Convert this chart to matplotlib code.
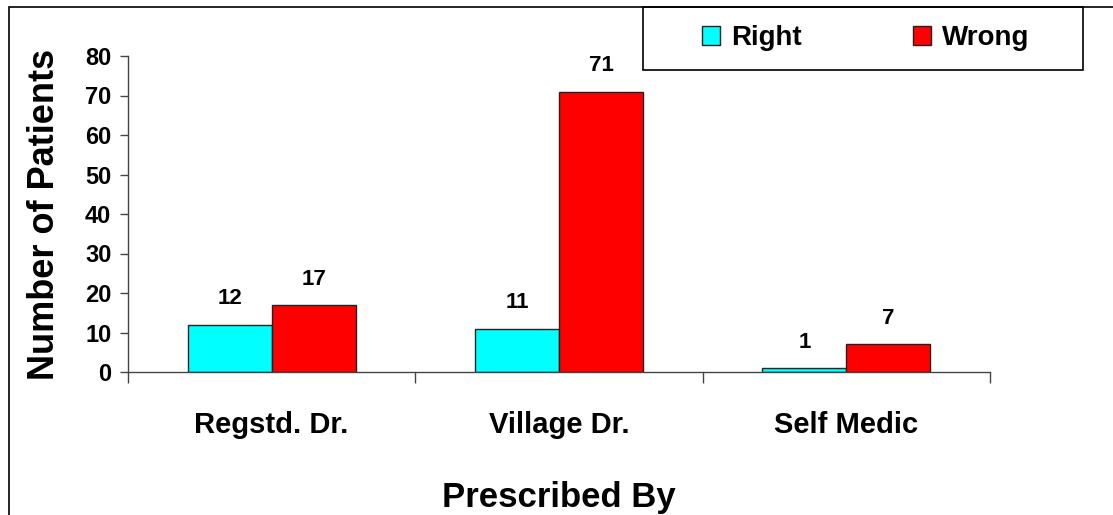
import matplotlib
matplotlib.use("Agg")
import matplotlib.pyplot as plt
from matplotlib.patches import Rectangle, Patch
import numpy as np

plt.rcParams['font.family'] = ['Liberation Sans', 'DejaVu Sans']
plt.rcParams['font.weight'] = 'bold'

categories = ['Regstd. Dr.', 'Village Dr.', 'Self Medic']
right_counts = [12, 11, 1]
wrong_counts = [17, 71, 7]
series_names = ['Right', 'Wrong']
y_ticks = [0, 10, 20, 30, 40, 50, 60, 70, 80]

W, H = 1113, 515
fig = plt.figure(figsize=(W / 100, H / 100), dpi=100)
ax = fig.add_axes([128 / W, 1 - 372 / H, 862 / W, 316 / H])

x = np.arange(len(categories))
bw = 0.292
b1 = ax.bar(x - bw / 2, right_counts, bw, color='#00FFFF', edgecolor='#222222', linewidth=1)
b2 = ax.bar(x + bw / 2, wrong_counts, bw, color='#FF0000', edgecolor='#222222', linewidth=1)
ax.bar_label(b1, padding=11, fontsize=16, fontweight='bold')
ax.bar_label(b2, padding=11, fontsize=16, fontweight='bold')

ax.set_xlim(-0.5, len(categories) - 0.5)
ax.set_ylim(0, 80)
ax.set_yticks(y_ticks)
ax.tick_params(axis='y', length=6, width=1, color='#444444', labelsize=17, pad=6)

# category names centred, tick marks at the group boundaries
ax.set_xticks(x)
ax.set_xticklabels(categories, fontsize=21, fontweight='bold')
ax.tick_params(axis='x', which='major', length=0, pad=28)
ax.set_xticks(np.arange(len(categories) + 1) - 0.5, minor=True)
ax.tick_params(axis='x', which='minor', length=8, width=1, color='#444444', direction='out')

for s in ['top', 'right']:
    ax.spines[s].set_visible(False)
for s in ['left', 'bottom']:
    ax.spines[s].set_color('#444444')
    ax.spines[s].set_linewidth(1)

ax.set_ylabel('Number of Patients', fontsize=26, fontweight='bold')
ax.yaxis.set_label_coords(-0.076, 0.5)
ax.set_xlabel('Prescribed By', fontsize=25, fontweight='bold')
ax.xaxis.set_label_coords(0.5, -0.345)

# outer frame and legend box
fig.patches.append(Rectangle((9 / W, -0.5), 1.5, 1 - 7 / H + 0.5, transform=fig.transFigure,
                             fill=False, edgecolor='black', linewidth=1.2))
fig.patches.append(Rectangle((643 / W, 1 - 70 / H), 440 / W, 63 / H, transform=fig.transFigure,
                             fill=False, edgecolor='black', linewidth=1.2))

handles = [Patch(facecolor='#00FFFF', edgecolor='#222222'),
           Patch(facecolor='#FF0000', edgecolor='#222222')]
fig.legend(handles, series_names, loc='center', bbox_to_anchor=(866 / W, 1 - 38 / H),
           ncol=2, frameon=False, prop={'size': 20, 'weight': 'bold'},
           handlelength=0.65, handleheight=0.65, handletextpad=0.4, columnspacing=4.0)

fig.savefig('out.png', dpi=100)
